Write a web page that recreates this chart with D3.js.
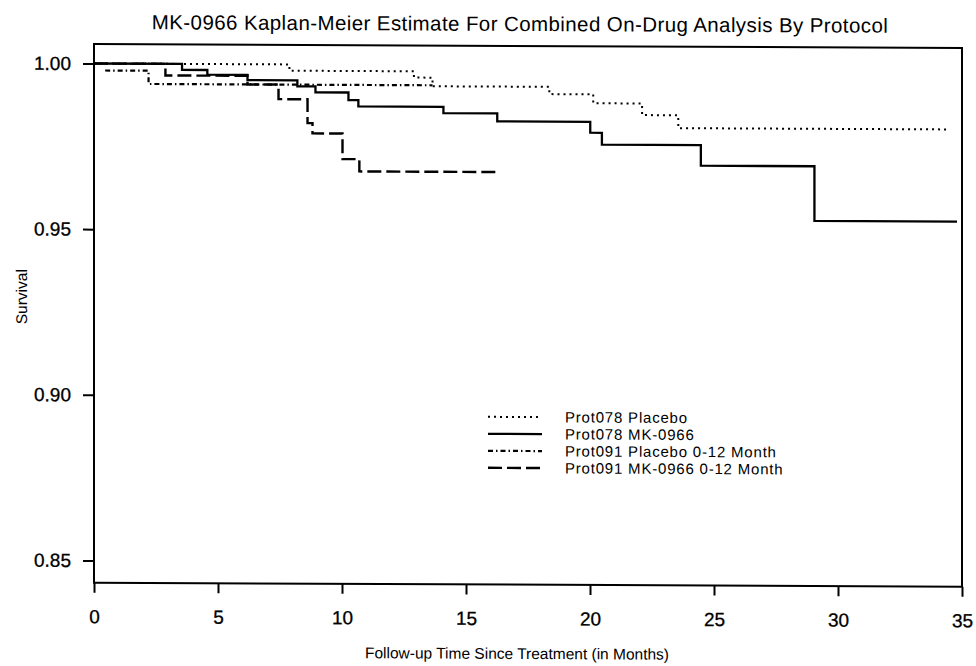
<!DOCTYPE html>
<html>
<head>
<meta charset="utf-8">
<script src="https://cdn.jsdelivr.net/npm/d3@7"></script>
<style>
  body { margin: 0; background: #fff; }
  svg { display: block; font-family: 'Liberation Sans', Arial, Helvetica, sans-serif; }
</style>
</head>
<body>
<div id="chart"></div>
<script>
// ── Kaplan-Meier step curves ──

const placebo078Time = [0, 7.88, 12.9, 13.65, 18.36, 20.13, 22.1, 23.56, 34.4]
const placebo078Surv = [1.0, 0.9981, 0.9962, 0.9936, 0.9914, 0.9887, 0.9852, 0.9813, 0.9813]

const mk078Time = [0, 3.55, 4.57, 6.19, 8.2, 8.93, 10.26, 10.66, 14.09, 16.26, 20.01, 20.48, 24.47, 29.05, 34.8]
const mk078Surv = [1.0, 0.9982, 0.9968, 0.9952, 0.9934, 0.9916, 0.9893, 0.9874, 0.9855, 0.9831, 0.9798, 0.9762, 0.9700, 0.9535, 0.9535]

const placebo091Time = [0.45, 2.2, 13.65]
const placebo091Surv = [0.9979, 0.9939, 0.9939]

const mk091Time = [0, 2.88, 6.19, 7.44, 8.61, 8.81, 10.02, 10.70, 16.22]
const mk091Surv = [1.0, 0.9965, 0.9939, 0.9895, 0.9823, 0.9792, 0.9715, 0.9678, 0.9678]

const seriesNames = ['Prot078 Placebo', 'Prot078 MK-0966', 'Prot091 Placebo 0-12 Month', 'Prot091 MK-0966 0-12 Month']

const xTicks = [0, 5, 10, 15, 20, 25, 30, 35]
const yTicks = [0.85, 0.90, 0.95, 1.00]

const titleText = 'MK-0966 Kaplan-Meier Estimate For Combined On-Drug Analysis By Protocol'
const xTitle = 'Follow-up Time Since Treatment (in Months)'
const yTitle = 'Survival'

// line styles per series (same order as seriesNames)
const styles = [
  { dash: '2,4', width: 2 },
  { dash: null, width: 2.3 },
  { dash: '5,3,1.5,3', width: 2.2 },
  { dash: '14,5', width: 2.4 },
]

const width = 976, height = 666

const svg = d3.select('#chart')
  .append('svg')
  .attr('width', width)
  .attr('height', height)

// the scan is slightly sheared: right side sits ~4px lower than the left
const g = svg.append('g')
  .attr('transform', 'translate(94,0) skewY(0.265) translate(-94,0)')

const x = d3.scaleLinear().domain([0, 35]).range([94, 962])
const y = d3.scaleLinear().domain([0.84328, 1.00589]).range([582.7, 44])

const series = [
  { name: seriesNames[0], t: placebo078Time, s: placebo078Surv },
  { name: seriesNames[1], t: mk078Time, s: mk078Surv },
  { name: seriesNames[2], t: placebo091Time, s: placebo091Surv },
  { name: seriesNames[3], t: mk091Time, s: mk091Surv },
]

const line = d3.line()
  .x(d => x(d[0]))
  .y(d => y(d[1]))
  .curve(d3.curveStepAfter)

g.selectAll('path.km')
  .data(series)
  .join('path')
  .attr('class', 'km')
  .attr('d', d => line(d.t.map((t, i) => [t, d.s[i]])))
  .attr('fill', 'none')
  .attr('stroke', '#000')
  .attr('stroke-width', (d, i) => styles[i].width)
  .attr('stroke-dasharray', (d, i) => styles[i].dash)

// plot frame
g.append('rect')
  .attr('x', x(0))
  .attr('y', y.range()[1])
  .attr('width', x(35) - x(0))
  .attr('height', y.range()[0] - y.range()[1])
  .attr('fill', 'none')
  .attr('stroke', '#000')
  .attr('stroke-width', 2)

// axes
const yAxis = g.append('g')
  .attr('transform', `translate(${x(0)},0)`)
  .call(d3.axisLeft(y).tickValues(yTicks).tickFormat(d3.format('.2f')).tickSize(11).tickPadding(12))
yAxis.select('.domain').remove()

const xAxis = g.append('g')
  .attr('transform', `translate(0,${y.range()[0]})`)
  .call(d3.axisBottom(x).tickValues(xTicks).tickFormat(d3.format('d')).tickSize(10).tickPadding(17))
xAxis.select('.domain').remove()

g.selectAll('.tick line').attr('stroke', '#000').attr('stroke-width', 2)
g.selectAll('.tick text')
  .attr('fill', '#000')
  .attr('font-size', 19)
  .attr('font-family', "'Liberation Sans', Arial, sans-serif")
  .attr('stroke', '#000')
  .attr('stroke-width', 0.3)

// legend
const legend = g.append('g')
const rowY = [415, 432, 449, 466]
series.forEach((d, i) => {
  legend.append('line')
    .attr('x1', 488).attr('x2', 542)
    .attr('y1', rowY[i]).attr('y2', rowY[i])
    .attr('stroke', '#000')
    .attr('stroke-width', styles[i].width)
    .attr('stroke-dasharray', styles[i].dash)
  legend.append('text')
    .attr('x', 565)
    .attr('y', rowY[i])
    .attr('dy', '0.35em')
    .attr('font-size', 15)
    .attr('letter-spacing', 0.8)
    .attr('fill', '#000')
    .text(d.name)
})

// titles
const title = g.append('text')
  .attr('x', 520)
  .attr('y', 29)
  .attr('text-anchor', 'middle')
  .attr('font-size', 20.5)
  .text(titleText)
// the scanned title runs from about x=152 to x=888; widen the spacing to match
const titleLen = title.node().getComputedTextLength()
title.attr('letter-spacing', Math.max(0, (736 - titleLen) / (titleText.length - 1)))

g.append('text')
  .attr('x', 517)
  .attr('y', 657)
  .attr('text-anchor', 'middle')
  .attr('font-size', 15.5)
  .text(xTitle)

g.append('text')
  .attr('transform', 'translate(27,297) rotate(-90)')
  .attr('text-anchor', 'middle')
  .attr('font-size', 15.5)
  .text(yTitle)
</script>
</body>
</html>
